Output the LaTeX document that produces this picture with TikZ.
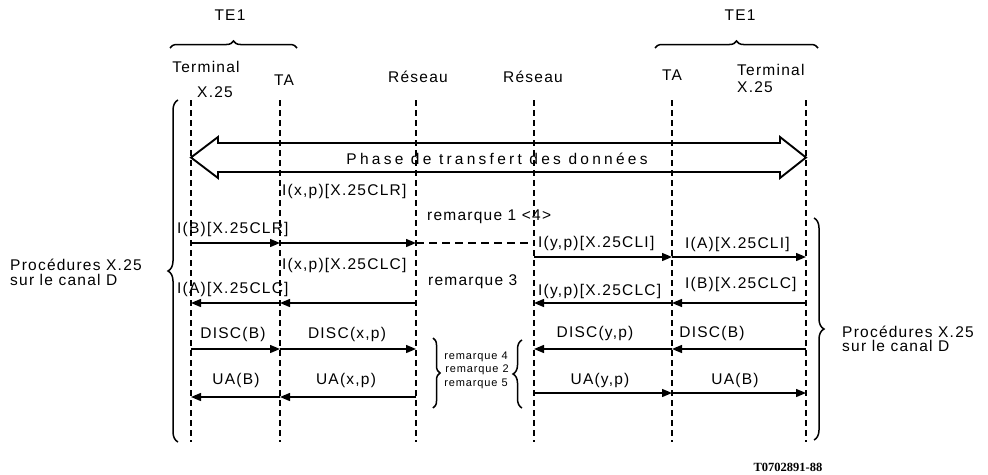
\documentclass[tikz,border=0pt]{standalone}
\usepackage{fontspec}
\setmainfont{Liberation Sans}[LetterSpace=8]
\newfontfamily\widefont{Liberation Sans}[LetterSpace=21]
\newfontfamily\reffont{Liberation Serif}
\usetikzlibrary{arrows.meta,decorations.pathreplacing}
\begin{document}
\begin{tikzpicture}[x=1pt,y=-1pt,
  lbl/.style={inner sep=0pt, anchor=base, font=\fontsize{15.5}{17}\selectfont},
  lblw/.style={lbl, anchor=base west},
  small/.style={inner sep=0pt, anchor=base, font=\fontsize{11}{12}\selectfont},
  life/.style={line width=1.2pt, dash pattern=on 6pt off 4pt},
  msg/.style={line width=1.4pt, -{Triangle[length=10pt,width=8pt]}},
  gap/.style={line width=1.4pt, dash pattern=on 8pt off 5pt},
  brc/.style={line width=1.5pt, decorate, decoration={brace, amplitude=#1}},
  brc/.default=8pt,
]
\useasboundingbox (0,0) rectangle (988,474);

% lifeline ends
\coordinate (a1) at (191,100); \coordinate (b1) at (191,442);
\coordinate (a2) at (280,100); \coordinate (b2) at (280,442);
\coordinate (a3) at (416,100); \coordinate (b3) at (416,442);
\coordinate (a4) at (534,100); \coordinate (b4) at (534,442);
\coordinate (a5) at (672,100); \coordinate (b5) at (672,442);
\coordinate (a6) at (806,100); \coordinate (b6) at (806,442);
\foreach \i in {1,...,6} { \draw[life] (a\i) -- (b\i); }

% message rows
\coordinate (r1) at (0,243);
\coordinate (r1b) at (0,257);
\coordinate (r2) at (0,303);
\coordinate (r3) at (0,349);
\coordinate (r4) at (0,397);
\coordinate (r4b) at (0,393);

\draw[msg] (a1 |- r1) -- (a2 |- r1);
\draw[msg] (a2 |- r1) -- (a3 |- r1);
\draw[gap] (a3 |- r1) -- (a4 |- r1);
\draw[msg] (a4 |- r1b) -- (a5 |- r1b);
\draw[msg] (a5 |- r1b) -- (a6 |- r1b);

\draw[msg] (a3 |- r2) -- (a2 |- r2);
\draw[msg] (a2 |- r2) -- (a1 |- r2);
\draw[msg] (a6 |- r2) -- (a5 |- r2);
\draw[msg] (a5 |- r2) -- (a4 |- r2);

\draw[msg] (a1 |- r3) -- (a2 |- r3);
\draw[msg] (a2 |- r3) -- (a3 |- r3);
\draw[msg] (a6 |- r3) -- (a5 |- r3);
\draw[msg] (a5 |- r3) -- (a4 |- r3);

\draw[msg] (a3 |- r4) -- (a2 |- r4);
\draw[msg] (a2 |- r4) -- (a1 |- r4);
\draw[msg] (a4 |- r4b) -- (a5 |- r4b);
\draw[msg] (a5 |- r4b) -- (a6 |- r4b);

% data transfer double arrow
\coordinate (dl) at (191,157.5);
\coordinate (dr) at (806,157.5);
\draw[line width=1.9pt, line join=miter]
  (dl) -- (218,137) -- (218,143) -- (780,143) -- (780,137) -- (dr)
  -- (780,178) -- (780,172) -- (218,172) -- (218,178) -- cycle;
\node[lbl] (phase) at (497,164) {\widefont Phase de transfert des données};

% braces
\draw[brc=7pt] (170,48) -- (297,48);
\draw[brc=7pt] (655,48) -- (818,48);
\draw[brc=10pt] (178,442) -- (178,100);
\draw[brc=10pt] (814,218) -- (814,440);
\draw[brc=7pt] (433,338) -- (433,408);
\draw[brc=9pt] (522,408) -- (522,340);

% header labels
\node[lbl] (te1l) at (230,20) {TE1};
\node[lbl] (te1r) at (740,20) {TE1};
\node[lbl] (terml) at (206,72) {Terminal};
\node[lbl] (x25l) at (215,97) {X.25};
\node[lbl] (tal) at (284,85) {TA};
\node[lbl] (res1) at (418,82) {Réseau};
\node[lbl] (res2) at (533,82) {Réseau};
\node[lbl] (tar) at (672,80) {TA};
\node[lblw] (termr) at (737,75) {Terminal};
\node[lblw] (x25r) at (737,92) {X.25};

% message labels
\node[lblw] (m1) at (282,195) {I(x,p)[X.25CLR]};
\node[lblw] (m2) at (177,233) {I(B)[X.25CLR]};
\node[lblw] (rq1) at (427,220) {remarque 1 <4>};
\node[lblw] (m3) at (538,247) {I(y,p)[X.25CLI]};
\node[lblw] (m4) at (685,248) {I(A)[X.25CLI]};
\node[lblw] (m5) at (282,269) {I(x,p)[X.25CLC]};
\node[lblw] (rq3) at (428,285) {remarque 3};
\node[lblw] (m6) at (177,293) {I(A)[X.25CLC]};
\node[lblw] (m7) at (538,295) {I(y,p)[X.25CLC]};
\node[lblw] (m8) at (685,288) {I(B)[X.25CLC]};

\node[lbl] (d1) at (233,338) {DISC(B)};
\node[lbl] (d2) at (347,338) {DISC(x,p)};
\node[lbl] (d3) at (595,337) {DISC(y,p)};
\node[lbl] (d4) at (712,337) {DISC(B)};

\node[lbl] (u1) at (236,384) {UA(B)};
\node[lbl] (u2) at (346,384) {UA(x,p)};
\node[lbl] (u3) at (600,384) {UA(y,p)};
\node[lbl] (u4) at (735,384) {UA(B)};

% remarks
\node[small] (rq4) at (476,359) {remarque 4};
\node[small] (rq2) at (477,372) {remarque 2};
\node[small] (rq5) at (476,386) {remarque 5};

% side labels
\node[lblw] (pl1) at (10,270) {Procédures X.25};
\node[lblw] (pl2) at (10,285) {sur le canal D};
\node[lblw] (pr1) at (842,337) {Procédures X.25};
\node[lblw] (pr2) at (842,351) {sur le canal D};

\node[inner sep=0pt, anchor=base, font=\reffont\bfseries\fontsize{12.5}{13}\selectfont] (ref) at (788,471) {T0702891-88};
\end{tikzpicture}
\end{document}
